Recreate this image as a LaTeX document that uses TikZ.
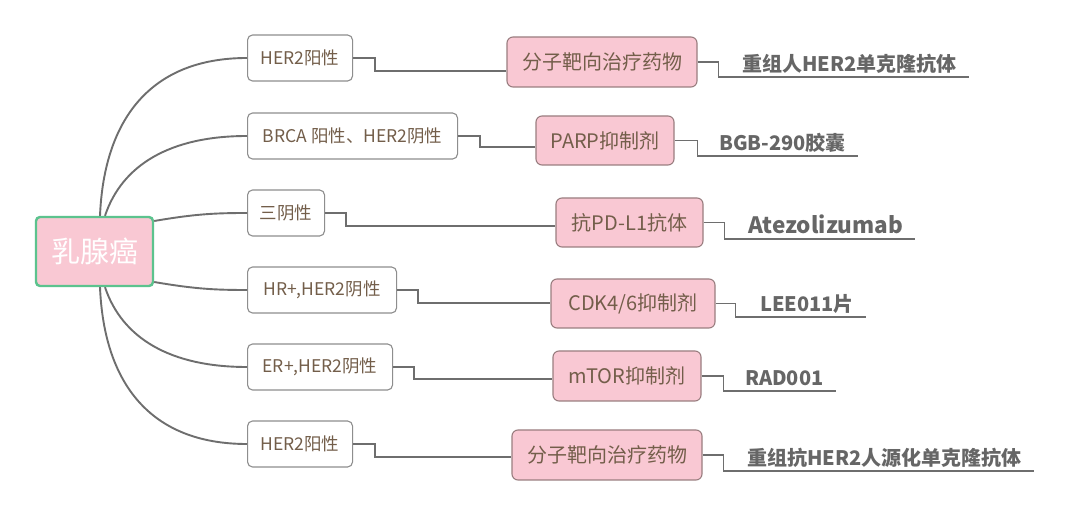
\documentclass[tikz,border=0pt]{standalone}
\usepackage{fontspec}
\setmainfont{Noto Sans CJK SC}
\usetikzlibrary{calc}
\definecolor{txtbrown}{HTML}{735E4A}
\definecolor{txtgray}{HTML}{666666}
\definecolor{linegray}{HTML}{6E6E6E}
\definecolor{pinkfill}{HTML}{F9C8D3}
\definecolor{rootfill}{HTML}{F9C8D3}
\definecolor{rootborder}{HTML}{5CC38E}
\definecolor{lvtwoborder}{HTML}{9A7E80}
\definecolor{lvoneborder}{HTML}{8E8E8E}
\tikzset{
  rootbox/.style={draw=rootborder, line width=2.4pt, fill=rootfill, rounded corners=4pt,
    text=white, font=\fontsize{29}{32}\selectfont, inner sep=0pt},
  lvonebox/.style={draw=lvoneborder, line width=1.1pt, fill=white, rounded corners=5pt,
    text=txtbrown, font=\fontsize{17.5}{20}\selectfont, minimum height=46pt, inner sep=0pt, anchor=west},
  lvtwobox/.style={draw=lvtwoborder, line width=1.1pt, fill=pinkfill, rounded corners=6pt,
    text=txtbrown, font=\fontsize{20}{23}\selectfont, inner sep=0pt},
  lvthree/.style={text=txtgray, font=\bfseries\fontsize{20}{23}\selectfont, inner sep=0pt, anchor=base west},
  branch/.style={draw=linegray, line width=1.9pt},
  conn/.style={draw=linegray, line width=1.4pt},
}
\begin{document}
\begin{tikzpicture}[x=1pt,y=-1pt]
\useasboundingbox (0,0) rectangle (1080,518);
\fill[white] (0,0) rectangle (1080,518);

% root
\node[rootbox, minimum width=117pt, minimum height=69pt] (root) at (94.5,251.5) {乳腺癌};

% level 1
\node[lvonebox, minimum width=105pt] (a1) at (247,58) {HER2阳性};
\node[lvonebox, minimum width=210pt] (a2) at (247,136) {BRCA 阳性、HER2阴性};
\node[lvonebox, minimum width=77pt] (a3) at (247,213) {三阴性};
\node[lvonebox, minimum width=149pt] (a4) at (247,290) {HR+,HER2阴性};
\node[lvonebox, minimum width=145pt] (a5) at (247,367) {ER+,HER2阴性};
\node[lvonebox, minimum width=105pt] (a6) at (247,444) {HER2阳性};

% level 2
\node[lvtwobox, minimum width=190pt, minimum height=50pt] (m1) at (602,62) {分子靶向治疗药物};
\node[lvtwobox, minimum width=138pt, minimum height=49pt] (m2) at (605,140.5) {PARP抑制剂};
\node[lvtwobox, minimum width=147pt, minimum height=49pt] (m3) at (629.5,222.5) {抗PD-L1抗体};
\node[lvtwobox, minimum width=164pt, minimum height=49pt] (m4) at (633,303.5) {CDK4/6抑制剂};
\node[lvtwobox, minimum width=148pt, minimum height=50pt] (m5) at (627,376) {mTOR抑制剂};
\node[lvtwobox, minimum width=190pt, minimum height=50pt] (m6) at (607,455) {分子靶向治疗药物};

% level 3
\node[lvthree] (t1) at (742,72) {重组人HER2单克隆抗体};
\node[lvthree] (t2) at (719,151) {BGB-290胶囊};
\node[lvthree, font=\bfseries\fontsize{22.5}{25}\selectfont] (t3) at (748,234) {Atezolizumab};
\node[lvthree] (t4) at (760,312) {LEE011片};
\node[lvthree] (t5) at (745,386) {RAD001};
\node[lvthree] (t6) at (747,466) {重组抗HER2人源化单克隆抗体};
\foreach \i in {1,...,6}{
  \coordinate (u\i) at ($(t\i.base east)+(12,5)$);
}

% branches root -> level 1
\draw[branch] ($(root.north)+(5.5,0)$) .. controls (104,120) and (150,58) .. (a1.west);
\draw[branch] ($(root.north)+(10.5,0)$) .. controls (122,165) and (170,136) .. (a2.west);
\draw[branch] ($(root.east)+(0,-30.5)$) .. controls (195,214) and (215,213) .. (a3.west);
\draw[branch] ($(root.east)+(0,30.5)$) .. controls (195,289) and (215,290) .. (a4.west);
\draw[branch] ($(root.south)+(10.5,0)$) .. controls (122,338) and (170,367) .. (a5.west);
\draw[branch] ($(root.south)+(5.5,0)$) .. controls (104,383) and (150,444) .. (a6.west);

% level 1 -> level 2
\draw[conn] (a1.east) -- ++(22,0) |- ($(m1.west)+(0,9)$);
\draw[conn] (a2.east) -- ++(22,0) |- ($(m2.west)+(0,6.5)$);
\draw[conn] (a3.east) -- ++(21,0) |- ($(m3.west)+(0,3.5)$);
\draw[conn] (a4.east) -- ++(21,0) |- ($(m4.west)+(0,-0.5)$);
\draw[conn] (a5.east) -- ++(21,0) |- ($(m5.west)+(0,3)$);
\draw[conn] (a6.east) -- ++(22,0) |- ($(m6.west)+(0,2)$);

% level 2 -> level 3 (with underline)
\draw[conn] (m1.east) -- ++(21,0) |- (u1);
\draw[conn] (m2.east) -- ++(23,0) |- (u2);
\draw[conn] (m3.east) -- ++(21,0) |- (u3);
\draw[conn] (m4.east) -- ++(20,0) |- (u4);
\draw[conn] (m5.east) -- ++(22,0) |- (u5);
\draw[conn] (m6.east) -- ++(21,0) |- (u6);
\end{tikzpicture}
\end{document}
